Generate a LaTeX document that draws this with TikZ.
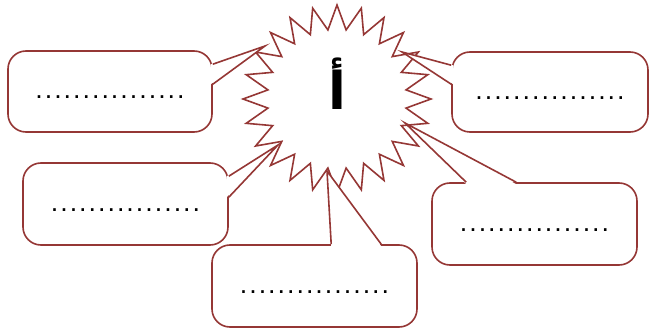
\documentclass[tikz,border=0pt]{standalone}
\usepackage{fontspec}
\newfontfamily\arabicfont[Script=Arabic]{DejaVu Sans}
\newfontfamily\dotsfont{DejaVu Sans Mono}
\TeXXeTstate=1
\usetikzlibrary{shapes.geometric,backgrounds}
\definecolor{calloutred}{HTML}{953735}

\begin{document}
\begin{tikzpicture}[x=1pt, y=-1pt,
    every path/.style={line width=1.6pt},
    hub/.style={star, star points=24, star point ratio=1.35, minimum size=188pt, inner sep=0pt, draw=calloutred, fill=white},
    box/.style={rectangle, rounded corners=18pt, draw=calloutred, fill=white, minimum width=205pt, minimum height=82pt, inner sep=0pt, text height=16pt, text depth=1.4pt, font={\dotsfont\bfseries\fontsize{15.7}{18}\selectfont}},
    tail/.style={draw=calloutred},
    tailfill/.style={fill=white},
    letter/.style={font={\arabicfont\bfseries\fontsize{52}{60}\selectfont}}]
  \useasboundingbox (0,0) rectangle (650,331);

  % star in the middle
  \begin{scope}[on background layer]
    \node[hub] (hub) at (337,99) {};
  \end{scope}
  \node[letter] (alef) at (337,84) {\beginR أ\endR};

  % tips of the callouts
  \coordinate (tipA) at (265,46);
  \coordinate (tipB) at (402,52);
  \coordinate (tipC) at (278,145);
  \coordinate (tipD) at (327,171);
  \coordinate (tipE) at (405,123);

  % boxes
  \node[box, minimum width=204pt, minimum height=81pt] (boxA) at (110,91.5) {................};
  \node[box, minimum width=196pt, minimum height=80pt] (boxB) at (550,92) {................};
  \node[box] (boxC) at (125.5,204) {................};
  \node[box] (boxD) at (314.5,286) {................};
  \node[box] (boxE) at (534.5,224) {................};

  % tails
  \fill[tailfill] ([xshift=-2pt,yshift=-14pt]boxA.north east) -- (tipA) -- ([xshift=-2pt,yshift=-34pt]boxA.north east) -- cycle;
  \draw[tail] ([yshift=-14pt]boxA.north east) -- (tipA) -- ([yshift=-34pt]boxA.north east);
  \fill[tailfill] ([xshift=2pt,yshift=-14pt]boxB.north west) -- (tipB) -- ([xshift=2pt,yshift=-33pt]boxB.north west) -- cycle;
  \draw[tail] ([yshift=-14pt]boxB.north west) -- (tipB) -- ([yshift=-33pt]boxB.north west);
  \fill[tailfill] ([xshift=-2pt,yshift=-14pt]boxC.north east) -- (tipC) -- ([xshift=-2pt,yshift=-35pt]boxC.north east) -- cycle;
  \draw[tail] ([yshift=-14pt]boxC.north east) -- (tipC) -- ([yshift=-35pt]boxC.north east);
  \fill[tailfill] ([xshift=120pt,yshift=-2pt]boxD.north west) -- (tipD) -- ([xshift=170pt,yshift=-2pt]boxD.north west) -- cycle;
  \draw[tail] ([xshift=120pt]boxD.north west) -- (tipD) -- ([xshift=170pt]boxD.north west);
  \fill[tailfill] ([xshift=35pt,yshift=-2pt]boxE.north west) -- (tipE) -- ([xshift=85pt,yshift=-2pt]boxE.north west) -- cycle;
  \draw[tail] ([xshift=35pt]boxE.north west) -- (tipE) -- ([xshift=85pt]boxE.north west);
\end{tikzpicture}
\end{document}
